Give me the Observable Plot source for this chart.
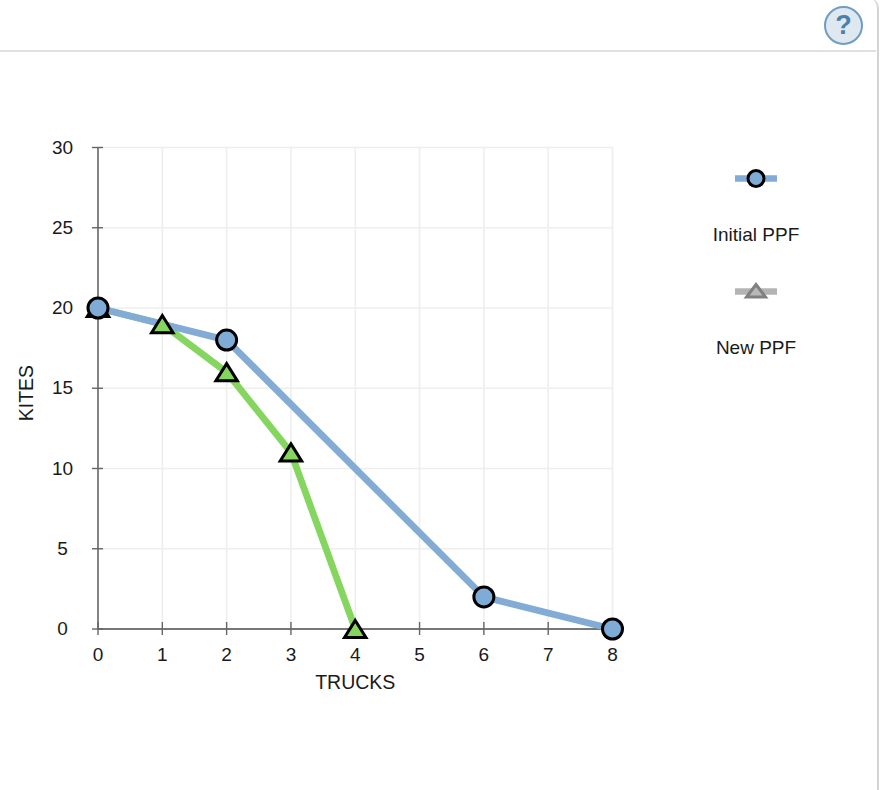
<!DOCTYPE html>
<html>
<head>
<meta charset="utf-8">
<script src="https://cdn.jsdelivr.net/npm/d3@7"></script>
<script src="https://cdn.jsdelivr.net/npm/@observablehq/plot@0.6"></script>
<style>
html,body{margin:0;padding:0;background:#fff;width:882px;height:790px;overflow:hidden;font-family:"Liberation Sans",Arial,sans-serif;color:#111}
#chart{position:absolute;left:0;top:0}
#frame{position:absolute;left:-10px;top:-2px;width:887px;height:860px;border:2px solid #d4d4d4;border-left:none;border-top:none;border-bottom:none;border-radius:0 10px 0 0;box-sizing:content-box}
#rule{position:absolute;left:0;top:50px;width:876px;height:2px;background:#e0e0e0}
#help{position:absolute;left:824px;top:6px;width:35px;height:35px;border:2px solid #6d9dc3;border-radius:50%;background:#dfe8f1;color:#4a7fae;font:bold 27px/35px "Liberation Sans",Arial,sans-serif;text-align:center}
.lg{position:absolute;left:696px;width:120px;text-align:center;font-size:19px;line-height:20px;color:#1a1a1a}
.sw{position:absolute;left:731px;width:50px;height:30px}
</style>
</head>
<body>
<div id="frame"></div>
<div id="rule"></div>
<div id="help">?</div>
<div id="chart"></div>
<svg class="sw" style="top:163px" viewBox="0 0 50 30"><line x1="4" x2="46" y1="15.500" y2="15.500" stroke="#82abd6" stroke-width="6.500"/><circle cx="25" cy="15.500" r="8" fill="#7facd6" stroke="#000" stroke-width="3"/></svg>
<div class="lg" style="top:225px">Initial PPF</div>
<svg class="sw" style="top:276px" viewBox="0 0 50 30"><line x1="4" x2="46" y1="15.500" y2="15.500" stroke="#b4b4b4" stroke-width="6.500"/><path d="M25 8.500L34.500 21L15.500 21Z" fill="#b9b9b9" stroke="#808080" stroke-width="3"/></svg>
<div class="lg" style="top:338px">New PPF</div>
<script>
const xTicks = [0,1,2,3,4,5,6,7,8];
const yTicks = [0,5,10,15,20,25,30];
const initialTrucks = [0,2,6,8];
const initialKites = [20,18,2,0];
const newTrucks = [0,1,2,3,4];
const newKites = [20,19,16,11,0];
const xTitle = "TRUCKS";
const yTitle = "KITES";

const initial = initialTrucks.map((x,i)=>({x,y:initialKites[i]}));
const next = newTrucks.map((x,i)=>({x,y:newKites[i]}));

const flatTriangle = {draw(c,size){
  const w = Math.sqrt(size)*1.1, h = w*0.8;
  c.moveTo(0,-h/2); c.lineTo(w/2,h/2); c.lineTo(-w/2,h/2); c.closePath();
}};

const labelFont = {fontSize:19, fill:"#1a1a1a", stroke:null};

const plot = Plot.plot({
  width:882, height:790,
  marginLeft:97.5, marginRight:270, marginTop:147, marginBottom:161.5,
  x:{domain:[0,8], axis:null},
  y:{domain:[0,30], axis:null},
  style:{fontFamily:'"Liberation Sans",Arial,sans-serif', background:"transparent", overflow:"visible"},
  marks:[
    Plot.ruleX(xTicks.slice(1),{x:d=>d, stroke:"#eeeeee", strokeWidth:1.6}),
    Plot.ruleY(yTicks.slice(1),{y:d=>d, stroke:"#eeeeee", strokeWidth:1.6}),
    Plot.ruleY([0],{y:d=>d, stroke:"#777", strokeWidth:1.8}),
    Plot.ruleX([0],{x:d=>d, stroke:"#777", strokeWidth:1.8}),
    Plot.ruleX(xTicks,{x:d=>d, y1:0, y2:0, insetTop:6.5, insetBottom:6.5, stroke:"#666", strokeWidth:1.4}),
    Plot.ruleY(yTicks,{y:d=>d, x1:0, x2:0, insetLeft:-5.5, insetRight:-5.5, stroke:"#666", strokeWidth:1.4}),
    Plot.text(xTicks,{x:d=>d, y:0, dy:26, text:d=>String(d), ...labelFont}),
    Plot.text(yTicks,{x:0, y:d=>d, dx:-35.5, text:d=>String(d), ...labelFont}),
    Plot.text([xTitle],{x:4, y:0, dy:54, text:d=>d, ...labelFont, fontSize:19.5}),
    Plot.text([yTitle],{x:0, y:14.7, dx:-71, rotate:-90, text:d=>d, ...labelFont, fontSize:19.5}),
    Plot.line(next,{x:"x", y:"y", stroke:"#85d65f", strokeWidth:6.8, curve:"linear"}),
    Plot.line(initial,{x:"x", y:"y", stroke:"#82abd6", strokeWidth:6.8, curve:"linear"}),
    Plot.dot(next,{x:"x", y:"y", symbol:flatTriangle, r:11, fill:"#85d65f", stroke:"#000", strokeWidth:3, clip:false}),
    Plot.dot(initial,{x:"x", y:"y", r:10, fill:"#7facd6", stroke:"#000", strokeWidth:3, clip:false})
  ]
});
document.getElementById("chart").appendChild(plot);
</script>
</body>
</html>
